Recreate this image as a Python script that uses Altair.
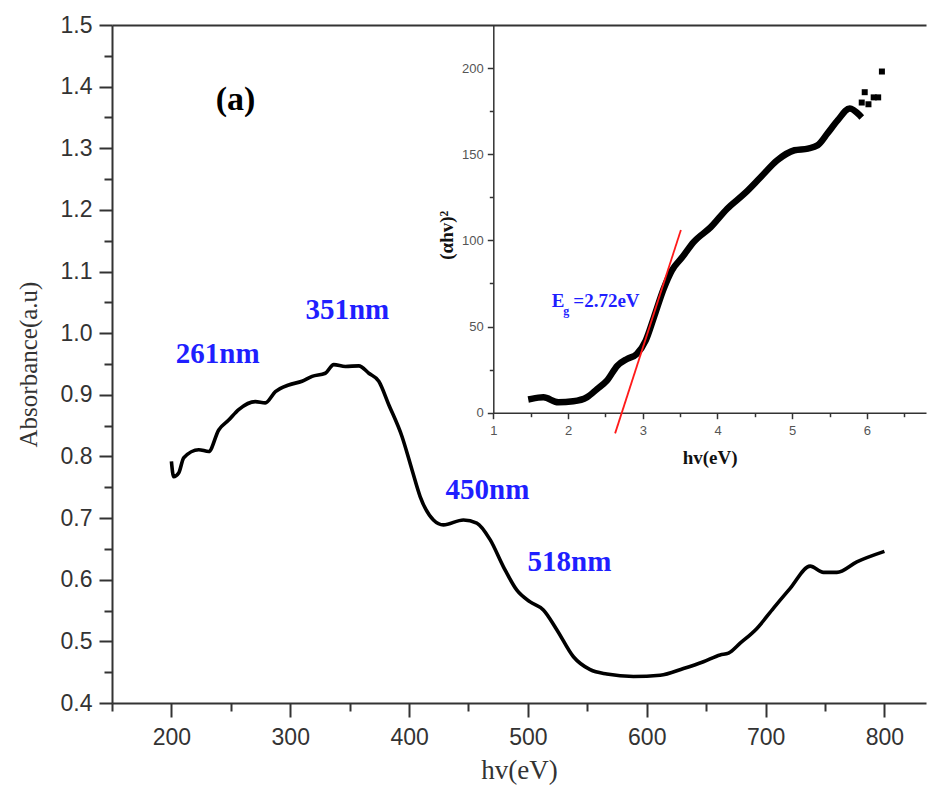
import altair as alt
import pandas as pd

# ---------------- main spectrum ----------------
wavelength = [200, 201.9, 206.1, 210.4, 223.0, 231.4, 239.8, 248.2, 256.6, 270.6,
              279.0, 287.5, 298.7, 309.9, 318.4, 329.5, 336.6, 346.4, 357.7, 366.1,
              374.5, 382.9, 394.1, 402.5, 409.3, 420.5, 428.9, 445.7, 457.0, 468.2,
              479.4, 490.7, 501.9, 513.0, 524.3, 538.3, 552.4, 566.4, 588.8, 611.3,
              630.9, 647.7, 661.8, 668.8, 678.6, 692.7, 706.7, 720.7, 737.5, 748.7,
              760.0, 776.8, 800]
absorbance = [0.792, 0.767, 0.773, 0.798, 0.811, 0.808, 0.843, 0.859, 0.876, 0.889,
              0.887, 0.905, 0.916, 0.922, 0.930, 0.935, 0.949, 0.946, 0.947, 0.935,
              0.922, 0.884, 0.832, 0.778, 0.735, 0.697, 0.689, 0.697, 0.692, 0.665,
              0.621, 0.583, 0.564, 0.551, 0.519, 0.475, 0.454, 0.447, 0.443, 0.445,
              0.456, 0.467, 0.478, 0.481, 0.497, 0.521, 0.554, 0.586, 0.622, 0.612,
              0.612, 0.629, 0.646]

peak_labels = ["261nm", "351nm", "450nm", "518nm"]
peak_x = [239, 348, 466, 535]
peak_y = [0.967, 1.038, 0.746, 0.628]

panel_label = ["(a)"]
panel_x = [254]
panel_y = [1.379]

main_x_major = [200, 300, 400, 500, 600, 700, 800]
main_x_minor = [150, 250, 350, 450, 550, 650, 750]
main_y_major = [0.4, 0.5, 0.6, 0.7, 0.8, 0.9, 1.0, 1.1, 1.2, 1.3, 1.4, 1.5]
main_y_minor = [0.45, 0.55, 0.65, 0.75, 0.85, 0.95, 1.05, 1.15, 1.25, 1.35, 1.45]

# ---------------- inset Tauc plot ----------------
hv = [1.51, 1.67, 1.87, 2.07, 2.25, 2.39, 2.52, 2.66, 2.79, 2.92, 3.04, 3.15, 3.28, 3.39,
      3.53, 3.68, 3.91, 4.13, 4.36, 4.58, 4.80, 5.03, 5.21, 5.34, 5.47, 5.61, 5.77, 5.90]
ahv2 = [8.0, 8.9, 6.0, 6.6, 8.9, 13.8, 18.6, 27.3, 31.2, 34.1, 41.9, 55.4, 71.9, 82.6,
        90.3, 99.0, 107.7, 118.4, 127.1, 136.8, 146.5, 152.3, 153.3, 155.2, 162.0, 169.8, 176.6, 172.7]
hv_tail = [5.93, 5.97, 6.02, 6.09, 6.15, 6.20]
ahv2_tail = [180, 186, 179, 183, 183, 198]

fit_hv = [2.63, 3.51]
fit_ahv2 = [-12, 106]

inset_x_major = [1, 2, 3, 4, 5, 6]
inset_x_minor = [1.5, 2.5, 3.5, 4.5, 5.5, 6.5]
inset_y_major = [0, 50, 100, 150, 200]
inset_y_minor = [25, 75, 125, 175]

W, H = 814, 678

main_df = pd.DataFrame({"wl": wavelength, "abs": absorbance})
peak_df = pd.DataFrame({"label": peak_labels, "x": peak_x, "y": peak_y})
panel_df = pd.DataFrame({"label": panel_label, "x": panel_x, "y": panel_y})
inset_df = pd.DataFrame({"hv": hv, "ahv": ahv2})
tail_df = pd.DataFrame({"hv": hv_tail, "ahv": ahv2_tail})
fit_df = pd.DataFrame({"hv": fit_hv, "ahv": fit_ahv2})

xs = alt.Scale(domain=[150, 835], nice=False, zero=False)
ys = alt.Scale(domain=[0.4, 1.5], nice=False, zero=False)
ixs = alt.Scale(domain=[1, 6.79], range=[381.3, 814], nice=False, zero=False)
iys = alt.Scale(domain=[0, 225], range=[387.7, 0], nice=False, zero=False)

AX = dict(grid=False, labelFlush=False, labelOverlap=False, domainColor="#333",
          tickColor="#333", labelFont="Liberation Sans")

SERIF = "Liberation Serif"
BLUE = "#1f1fff"

# main layers
main_line = alt.Chart(main_df).mark_line(color="black", strokeWidth=3.6, strokeJoin="round",
                                         interpolate="monotone").encode(
    x=alt.X("wl:Q", scale=xs, axis=alt.Axis(
        orient="bottom", values=main_x_major, format="d", tickSize=14, tickWidth=2,
        domainWidth=2, labelFontSize=23, labelColor="#333", labelPadding=9, title="hv(eV)",
        titleFont=SERIF, titleFontSize=27, titleFontWeight="normal", titleColor="#333",
        titlePadding=8, **AX)),
    y=alt.Y("abs:Q", scale=ys, axis=alt.Axis(
        orient="left", values=main_y_major, format=".1f", tickSize=13, tickWidth=2,
        domainWidth=2, labelFontSize=23, labelColor="#333", labelPadding=7,
        title="Absorbance(a.u)", titleFont=SERIF, titleFontSize=25, titleFontWeight="normal",
        titleColor="#333", titlePadding=19, **AX)),
)

main_minor = alt.Chart(main_df).mark_line(opacity=0).encode(
    x=alt.X("wl:Q", scale=xs, axis=alt.Axis(
        orient="bottom", values=main_x_minor, tickSize=8, tickWidth=2, labels=False,
        domain=False, title="", **AX)),
    y=alt.Y("abs:Q", scale=ys, axis=alt.Axis(
        orient="left", values=main_y_minor, tickSize=8, tickWidth=2, labels=False,
        domain=False, title="", **AX)),
)

main_top = alt.Chart(main_df).mark_line(opacity=0).encode(
    x=alt.X("wl:Q", scale=xs, axis=alt.Axis(
        orient="top", ticks=False, labels=False, domain=True, domainWidth=2, title="", **AX)),
    y=alt.Y("abs:Q", scale=ys, axis=None),
)

peaks = alt.Chart(peak_df).mark_text(font=SERIF, fontWeight="bold", fontSize=29, color=BLUE,
                                     align="center", baseline="middle").encode(
    x=alt.X("x:Q", scale=xs, axis=None),
    y=alt.Y("y:Q", scale=ys, axis=None),
    text="label:N",
)

panel = alt.Chart(panel_df).mark_text(font=SERIF, fontWeight="bold", fontSize=34, color="black",
                                      align="center", baseline="middle").encode(
    x=alt.X("x:Q", scale=xs, axis=None),
    y=alt.Y("y:Q", scale=ys, axis=None),
    text="label:N",
)

main_layer = alt.layer(main_line, main_minor, main_top, peaks, panel).resolve_axis(
    x="independent", y="independent")

# inset layers
inset_line = alt.Chart(inset_df).mark_line(color="black", strokeWidth=6.5, strokeCap="square",
                                           strokeJoin="round", interpolate="monotone").encode(
    x=alt.X("hv:Q", scale=ixs, axis=alt.Axis(
        orient="bottom", offset=-290.3, values=inset_x_major, format="d", tickSize=6,
        tickWidth=1.5, domainWidth=1.5, labelFontSize=13, labelColor="#555", labelPadding=6,
        title="hv(eV)", titleFont=SERIF, titleFontWeight="bold", titleFontSize=19,
        titleColor="#111", titlePadding=11, **AX)),
    y=alt.Y("ahv:Q", scale=iys, axis=alt.Axis(
        orient="left", offset=-381.3, values=inset_y_major, format="d", tickSize=6,
        tickWidth=1.5, domainWidth=1.5, labelFontSize=13, labelColor="#555", labelPadding=4,
        title="", **AX)),
)

inset_minor = alt.Chart(inset_df).mark_line(opacity=0).encode(
    x=alt.X("hv:Q", scale=ixs, axis=alt.Axis(
        orient="bottom", offset=-290.3, values=inset_x_minor, tickSize=4, tickWidth=1.5,
        labels=False, domain=False, title="", **AX)),
    y=alt.Y("ahv:Q", scale=iys, axis=alt.Axis(
        orient="left", offset=-381.3, values=inset_y_minor, tickSize=4, tickWidth=1.5,
        labels=False, domain=False, title="", **AX)),
)

inset_tail = alt.Chart(tail_df).mark_square(color="black", size=36, opacity=1).encode(
    x=alt.X("hv:Q", scale=ixs, axis=None),
    y=alt.Y("ahv:Q", scale=iys, axis=None),
)

fit_line = alt.Chart(fit_df).mark_line(color="#ff1a1a", strokeWidth=1.8).encode(
    x=alt.X("hv:Q", scale=ixs, axis=None),
    y=alt.Y("ahv:Q", scale=iys, axis=None),
)

eg_text = ["E", "g", "=2.72eV"]
eg_x = [1.782, 1.937, 2.071]
eg_y = [61.4, 56.6, 61.4]
eg_size = [19, 12, 19]
eg_layers = []
for t, x0, y0, s in zip(eg_text, eg_x, eg_y, eg_size):
    d = pd.DataFrame({"label": [t], "hv": [x0], "ahv": [y0]})
    eg_layers.append(
        alt.Chart(d).mark_text(font=SERIF, fontWeight="bold", fontSize=s, color=BLUE,
                               align="left", baseline="alphabetic").encode(
            x=alt.X("hv:Q", scale=ixs, axis=None),
            y=alt.Y("ahv:Q", scale=iys, axis=None),
            text="label:N",
        )
    )

ytitle_df = pd.DataFrame({"label": ["(αhv)²"], "hv": [0.38], "ahv": [103]})
inset_ytitle = alt.Chart(ytitle_df).mark_text(font=SERIF, fontWeight="bold", fontSize=19,
                                              color="#111", angle=270, align="center",
                                              baseline="middle").encode(
    x=alt.X("hv:Q", scale=ixs, axis=None),
    y=alt.Y("ahv:Q", scale=iys, axis=None),
    text="label:N",
)

inset_layer = alt.layer(inset_line, inset_minor, inset_tail, fit_line, inset_ytitle,
                        *eg_layers).resolve_axis(x="independent", y="independent")

chart = alt.layer(main_layer, inset_layer).resolve_scale(
    x="independent", y="independent"
).properties(
    width=W, height=H,
    autosize=alt.AutoSizeParams(type="none"),
    padding={"left": 104, "top": 17, "right": 1, "bottom": 95},
).configure_view(stroke="transparent")

chart.save("out.html", embed_options={"renderer": "svg", "actions": False})
